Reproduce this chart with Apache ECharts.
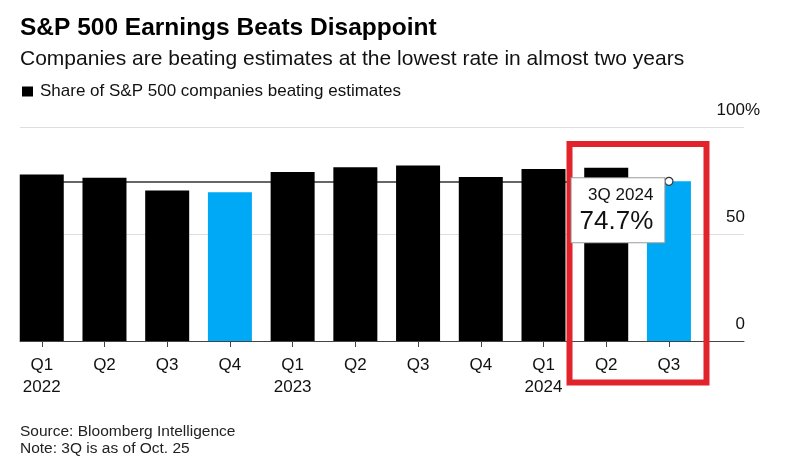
<!DOCTYPE html>
<html>
<head>
<meta charset="utf-8">
<script src="https://cdn.jsdelivr.net/npm/echarts@6/dist/echarts.min.js"></script>
<style>
html,body{margin:0;padding:0;background:#fff;}
#chart{width:800px;height:476px;}
</style>
</head>
<body>
<div id="chart"></div>
<script>
// ---- data ----
const quarters = ['Q1','Q2','Q3','Q4','Q1','Q2','Q3','Q4','Q1','Q2','Q3'];
const years    = ['2022','','','','2023','','','','2024','',''];
const beatShare = [77.9, 76.4, 70.4, 69.6, 79.1, 81.3, 82.1, 76.8, 80.5, 81.1, 74.7];
const highlightedQuarters = [3, 10];
const yTicks = [0, 50, 100];
const seriesName = 'Share of S&P 500 companies beating estimates';
const calloutTitle = '3Q 2024';

const FONT = "'Liberation Sans', Arial, sans-serif";
const categories = quarters.map((q, i) => years[i] ? q + '\n' + years[i] : q);
const lastIdx = beatShare.length - 1;
const latest = beatShare[lastIdx];
const BLUE = '#00a9f6';
const yMax = yTicks[yTicks.length - 1];

const chart = echarts.init(document.getElementById('chart'), null, {renderer: 'canvas'});
chart.setOption({
  animation: false,
  backgroundColor: '#fff',
  textStyle: {fontFamily: FONT},
  grid: [
    {left: 10.4, right: 99.7, top: 127.3, bottom: 135},
    {left: 20, right: 56, top: 127.3, bottom: 135}
  ],
  legend: {
    data: [seriesName],
    left: 17, top: 78,
    icon: 'rect', itemWidth: 11, itemHeight: 10, itemGap: 10,
    selectedMode: false,
    textStyle: {fontFamily: FONT, fontSize: 17, color: '#111', padding: [0, 0, 0, 2]}
  },
  xAxis: [
    {
      type: 'category', gridIndex: 0, data: categories,
      axisLine: {show: false},
      axisTick: {show: true, alignWithLabel: true, length: 6, lineStyle: {color: '#444', width: 1}},
      axisLabel: {fontFamily: FONT, fontSize: 17, color: '#111', lineHeight: 21.5, margin: 14, interval: 0}
    },
    {
      type: 'value', gridIndex: 1, min: 0, max: 1,
      axisLine: {show: true, onZero: false, lineStyle: {color: '#444', width: 1}},
      axisTick: {show: false}, axisLabel: {show: false}, splitLine: {show: false}
    }
  ],
  yAxis: [
    {type: 'value', gridIndex: 0, min: yTicks[0], max: yMax, interval: yTicks[1] - yTicks[0], show: false},
    {
      type: 'value', gridIndex: 1, min: yTicks[0], max: yMax, interval: yTicks[1] - yTicks[0], position: 'right',
      axisLine: {show: false}, axisTick: {show: false},
      splitLine: {show: true, lineStyle: {color: '#dedede', width: 1}},
      axisLabel: {
        inside: true, margin: -16, align: 'right', verticalAlign: 'bottom',
        fontFamily: FONT, fontSize: 17, color: '#111', lineHeight: 17, padding: [0, 0, 8, 0],
        formatter: v => '{n|' + v + '}' + (v === yMax ? '{p|%}' : '{h|%}'),
        rich: {
          n: {fontFamily: FONT, fontSize: 17, color: '#111', lineHeight: 17},
          p: {fontFamily: FONT, fontSize: 17, color: '#111', lineHeight: 17},
          h: {fontFamily: FONT, fontSize: 17, color: 'rgba(0,0,0,0)', lineHeight: 17}
        }
      }
    }
  ],
  series: [
    {
      name: seriesName, type: 'bar', xAxisIndex: 0, yAxisIndex: 0,
      barWidth: 44,
      itemStyle: {color: '#000'},
      data: beatShare.map((v, i) => highlightedQuarters.includes(i) ? {value: v, itemStyle: {color: BLUE}} : v),
      emphasis: {disabled: true},
      silent: true,
      markLine: {
        silent: true, z: 1, symbol: ['none', 'none'],
        label: {show: false},
        lineStyle: {color: '#333', width: 1.5, type: 'solid'},
        emphasis: {disabled: true},
        data: [[{coord: [0, latest]}, {coord: [lastIdx, latest]}]]
      },
      markPoint: {
        silent: true, z: 6,
        symbol: 'circle', symbolSize: 8,
        itemStyle: {color: '#fff', borderColor: '#333', borderWidth: 1.2},
        label: {
          show: true, position: 'left', distance: 0,
          align: 'right', verticalAlign: 'top', offset: [0, -3],
          backgroundColor: '#fff', borderColor: '#9a9a9a', borderWidth: 1,
          padding: [6, 11, 6, 8],
          formatter: () => '{a|' + calloutTitle + '}\n{b|' + latest.toFixed(1) + '%}',
          rich: {
            a: {fontFamily: FONT, fontSize: 17, lineHeight: 22, color: '#111'},
            b: {fontFamily: FONT, fontSize: 26, lineHeight: 30, color: '#111'}
          }
        },
        data: [{coord: [lastIdx, latest], value: latest}]
      }
    }
  ],
  graphic: [
    {type: 'text', x: 20, y: 28.3, silent: true,
     style: {text: 'S&P 500 Earnings Beats Disappoint', font: 'bold 24.5px ' + FONT, fill: '#000', verticalAlign: 'middle'}},
    {type: 'text', x: 20, y: 59.2, silent: true,
     style: {text: 'Companies are beating estimates at the lowest rate in almost two years', font: '21px ' + FONT, fill: '#111', verticalAlign: 'middle'}},
    {type: 'text', x: 20, y: 431.3, silent: true,
     style: {text: 'Source: Bloomberg Intelligence', font: '15.5px ' + FONT, fill: '#222', verticalAlign: 'middle'}},
    {type: 'text', x: 20, y: 449, silent: true,
     style: {text: 'Note: 3Q is as of Oct. 25', font: '15.5px ' + FONT, fill: '#222', verticalAlign: 'middle'}},
    {type: 'rect', z: 3, silent: true,
     shape: {x: 569.5, y: 144, width: 137, height: 238.5},
     style: {fill: 'none', stroke: '#e1232b', lineWidth: 6}}
  ]
});
</script>
</body>
</html>
